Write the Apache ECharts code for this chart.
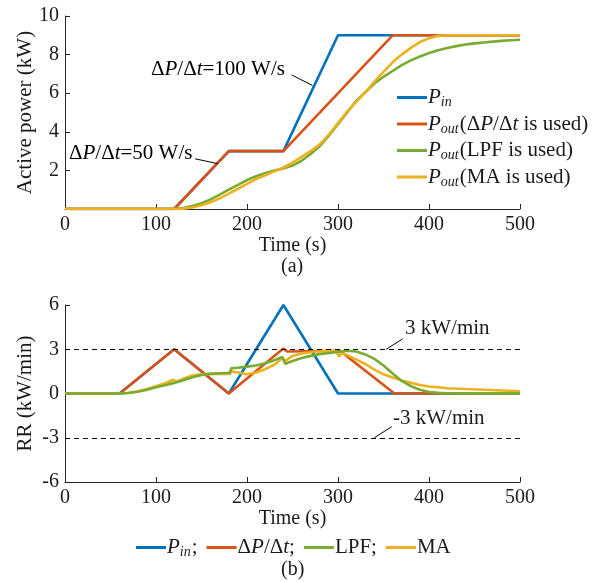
<!DOCTYPE html>
<html><head><meta charset="utf-8">
<script src="https://cdn.jsdelivr.net/npm/echarts@6/dist/echarts.min.js"></script>
<style>html,body{margin:0;padding:0;background:#fff}#c{width:597px;height:582px}</style>
</head><body><div id="c"></div>
<script>
// ---------- data (top: active power, kW) ----------
const timeA = [0,10,20,30,40,50,60,70,80,90,100,110,120,130,140,150,160,170,180,190,200,210,220,230,240,250,260,270,280,290,300,310,320,330,340,350,360,370,380,390,400,410,420,430,440,450,460,470,480,490,500];
const pinT = [0,120,180,240,300,500];
const pinP = [0,0,3,3,9,9];
const dpT = [0,120,180,240,360,500];
const dpP = [0,0,3,3,9,9];
const lpfP = [0,0,0,0,0,0,0,0,0,0,0,0,0,0.05,0.15,0.3,0.5,0.75,1.0,1.25,1.5,1.7,1.85,2.0,2.1,2.25,2.5,2.85,3.25,3.8,4.4,5.0,5.6,6.05,6.5,6.85,7.15,7.45,7.7,7.9,8.08,8.22,8.34,8.44,8.52,8.58,8.63,8.67,8.71,8.74,8.77];
const maP = [0,0,0,0,0,0,0,0,0,0,0,0,0,0.02,0.08,0.2,0.35,0.55,0.8,1.05,1.3,1.55,1.75,1.95,2.15,2.4,2.7,3.0,3.35,3.85,4.45,5.05,5.55,6.05,6.6,7.1,7.6,8.0,8.35,8.65,8.85,8.97,9.0,9.0,9.0,9.0,9.0,9.0,9.0,9.0,9.0];

// ---------- data (bottom: ramp rate, kW/min) ----------
const pinRrT = [0,60,120,180,240,300,500];
const pinRr  = [0,0,3,0,6,0,0];
const dpRrT = [0,60,120,180,240,244,302,362,500];
const dpRr  = [0,0,3,0,3.05,2.85,2.9,0,0];
const lpfRrT = [0,60,70,80,90,100,110,120,122,130,140,150,160,170,181,183,190,200,210,220,230,239,242,250,260,270,280,290,300,310,320,330,340,350,360,370,380,390,400,410,420,440,500];
const lpfRr  = [0,0,0.03,0.12,0.25,0.42,0.56,0.72,0.62,0.9,1.1,1.25,1.33,1.37,1.4,1.72,1.75,1.82,1.9,2.05,2.25,2.48,2.02,2.2,2.4,2.55,2.67,2.75,2.82,2.9,2.85,2.65,2.35,1.9,1.35,0.85,0.5,0.25,0.1,0.04,0.02,0.01,0.01];
const maRrT = [0,60,70,80,90,100,110,119,122,130,140,150,160,170,181,183,190,200,210,220,230,239,242,250,260,270,280,290,298,301,304,310,320,330,340,350,360,370,380,390,400,410,420,440,460,480,500];
const maRr  = [0,0,0.05,0.15,0.3,0.5,0.7,0.93,0.8,1.0,1.22,1.3,1.33,1.33,1.33,1.5,1.42,1.3,1.42,1.65,1.95,2.4,2.2,2.55,2.72,2.8,2.86,2.87,2.87,2.5,2.75,2.6,2.3,2.0,1.62,1.3,1.08,0.88,0.72,0.58,0.48,0.42,0.36,0.3,0.25,0.2,0.15];

// tick settings
const xTicks = {min:0, max:500, interval:100};
const yTopTicks = {min:0, max:10, interval:2};
const yBotTicks = {min:-6, max:6, interval:3};

const zip = (t, v) => t.map((x, i) => [x, v[i]]);
const FONT = 'Liberation Serif';
const TXT = '#1a1a1a';
const AX = '#262626';
const C = {blue:'#0072BD', red:'#D95319', green:'#77AC30', orange:'#EDB120'};

const richBase = {
  n: {fontFamily: FONT, fontSize: 21, color: TXT},
  p: {fontFamily: FONT, fontSize: 21, fontStyle: 'italic', color: TXT},
  s: {fontFamily: FONT, fontSize: 14, fontStyle: 'italic', color: TXT, padding: [10, 1, 0, 0]}
};

function xAxisCfg(gi, gap) {
  return {
    gridIndex: gi, type: 'value', ...xTicks,
    axisLine: {show: true, onZero: false, lineStyle: {color: AX, width: 1}},
    axisTick: {show: true, inside: true, length: 5, lineStyle: {color: AX}},
    axisLabel: {color: TXT, fontFamily: FONT, fontSize: 20, margin: 6},
    splitLine: {show: false},
    name: 'Time (s)', nameLocation: 'middle', nameGap: gap, nameMoveOverlap: false,
    nameTextStyle: {color: TXT, fontFamily: FONT, fontSize: 20}
  };
}
function yAxisCfg(gi, ticks, name, hideZero) {
  return {
    gridIndex: gi, type: 'value', ...ticks,
    axisLine: {show: true, onZero: false, lineStyle: {color: AX, width: 1}},
    axisTick: {show: true, inside: true, length: 5, lineStyle: {color: AX}},
    axisLabel: {color: TXT, fontFamily: FONT, fontSize: 20, margin: 6,
      formatter: v => (hideZero && v === 0) ? '' : String(v)},
    splitLine: {show: false},
    name: name, nameLocation: 'middle', nameGap: 29, nameRotate: 90, nameMoveOverlap: false,
    nameTextStyle: {color: TXT, fontFamily: FONT, fontSize: 21}
  };
}
function lineSeries(name, data, color, xi) {
  return {name, type: 'line', xAxisIndex: xi, yAxisIndex: xi, data,
    showSymbol: false, symbol: 'none', smooth: false,
    lineStyle: {color, width: 2.6}, itemStyle: {color}, z: 2};
}

const topS = [
  lineSeries('Pin', zip(pinT, pinP), C.blue, 0),
  lineSeries('PoutDP', zip(dpT, dpP), C.red, 0),
  lineSeries('PoutLPF', zip(timeA, lpfP), C.green, 0),
  lineSeries('PoutMA', zip(timeA, maP), C.orange, 0)
];
topS[0].markLine = {silent: true, symbol: ['none','none'], animation: false,
  lineStyle: {color: '#000', width: 1, type: 'solid'}, label: {show: false},
  data: [[{coord: [249, 6.95]}, {coord: [272, 6.4]}], [{coord: [143, 2.6]}, {coord: [168, 2.35]}]]};

const botS = [
  lineSeries('RRPin', zip(pinRrT, pinRr), C.blue, 1),
  lineSeries('RRDP', zip(dpRrT, dpRr), C.red, 1),
  lineSeries('RRMA', zip(maRrT, maRr), C.orange, 1),
  lineSeries('RRLPF', zip(lpfRrT, lpfRr), C.green, 1)
];
botS[0].markLine = {silent: true, symbol: ['none','none'], animation: false,
  lineStyle: {color: '#000', width: 1, type: [5, 4]}, label: {show: false},
  data: [{yAxis: 3}, {yAxis: -3}]};
botS[1].markLine = {silent: true, symbol: ['none','none'], animation: false,
  lineStyle: {color: '#000', width: 1, type: 'solid'}, label: {show: false},
  data: [[{coord: [353, 3]}, {coord: [371, 3.7]}], [{coord: [340, -3]}, {coord: [359, -2.25]}]]};

const topLabels = {
  Pin: '{p|P}{s|in}',
  PoutDP: '{p|P}{s|out}{n|(Δ}{p|P}{n|/Δ}{p|t}{n| is used)}',
  PoutLPF: '{p|P}{s|out}{n|(LPF is used)}',
  PoutMA: '{p|P}{s|out}{n|(MA is used)}'
};
const botLabels = {
  RRPin: '{p|P}{s|in}{n|;}',
  RRDP: '{n|Δ}{p|P}{n|/Δ}{p|t}{n|;}',
  RRLPF: '{n|LPF;}',
  RRMA: '{n|MA}'
};

const chart = echarts.init(document.getElementById('c'), null, {renderer: 'canvas'});
chart.setOption({
  animation: false,
  backgroundColor: '#fff',
  grid: [
    {left: 65, right: 77, top: 16, height: 193},
    {left: 65, right: 77, top: 305, height: 177}
  ],
  xAxis: [xAxisCfg(0, 27), xAxisCfg(1, 27)],
  yAxis: [yAxisCfg(0, yTopTicks, 'Active power (kW)', true), yAxisCfg(1, yBotTicks, 'RR (kW/min)', false)],
  legend: [
    {data: ['Pin','PoutDP','PoutLPF','PoutMA'], orient: 'vertical', left: 392, top: 82,
      icon: 'rect', itemWidth: 30, itemHeight: 3, itemGap: 4,
      formatter: n => topLabels[n], textStyle: {rich: richBase, padding: [0,0,0,-4]}},
    {data: ['RRPin','RRDP','RRLPF','RRMA'], orient: 'horizontal', left: 131, top: 532,
      icon: 'rect', itemWidth: 30, itemHeight: 3, itemGap: 9,
      formatter: n => botLabels[n], textStyle: {rich: richBase, padding: [0,0,0,-4]}}
  ],
  graphic: [
    {type: 'text', left: 151, top: 59, style: {rich: richBase, text: '{n|Δ}{p|P}{n|/Δ}{p|t}{n|=100 W/s}'}},
    {type: 'text', left: 69, top: 143, style: {rich: richBase, text: '{n|Δ}{p|P}{n|/Δ}{p|t}{n|=50 W/s}'}},
    {type: 'text', left: 405, top: 318, style: {text: '3 kW/min', font: '21px "Liberation Serif"', fill: TXT}},
    {type: 'text', left: 393, top: 408, style: {text: '-3 kW/min', font: '21px "Liberation Serif"', fill: TXT}},
    {type: 'text', left: 281, top: 257, style: {text: '(a)', font: '20px "Liberation Serif"', fill: TXT}},
    {type: 'text', left: 281, top: 560, style: {text: '(b)', font: '20px "Liberation Serif"', fill: TXT}}
  ],
  series: [...topS, ...botS]
});
</script></body></html>
